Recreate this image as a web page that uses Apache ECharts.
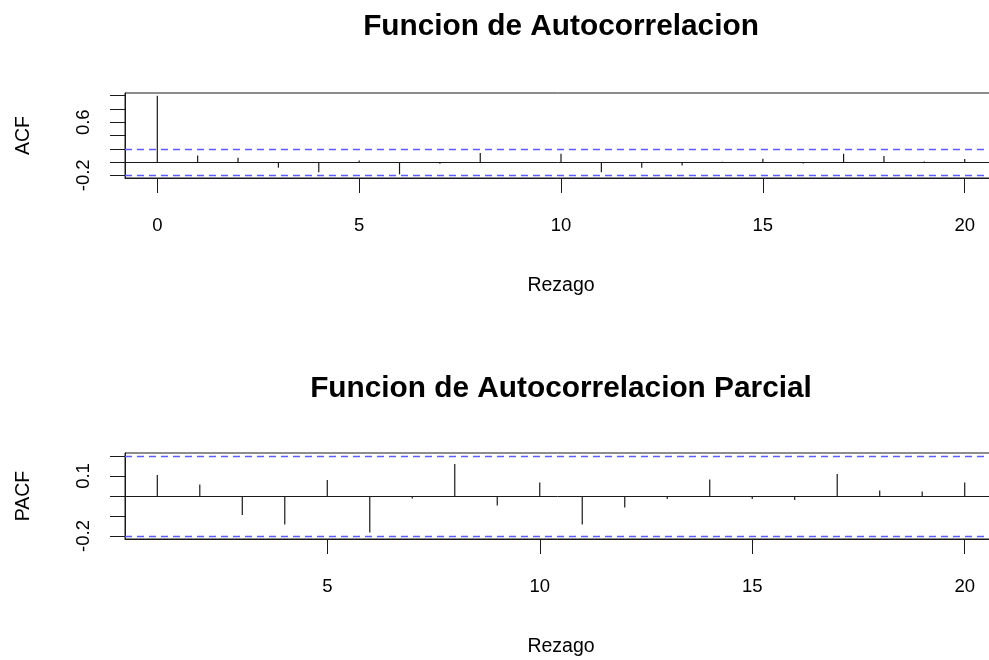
<!DOCTYPE html>
<html>
<head>
<meta charset="utf-8">
<title>Funcion de Autocorrelacion</title>
<script src="https://cdn.jsdelivr.net/npm/echarts@6/dist/echarts.min.js"></script>
<style>
  html, body { margin: 0; padding: 0; background: #fff; }
  #chart { width: 989px; height: 660px; }
</style>
</head>
<body>
<div id="chart"></div>
<script>
// Sample autocorrelations by lag
const acfLags = [0, 1, 2, 3, 4, 5, 6, 7, 8, 9, 10, 11, 12, 13, 14, 15, 16, 17, 18, 19, 20];
const acfValues = [1.0, 0.1, 0.065, -0.085, -0.155, 0.025, -0.185, -0.025, 0.135, -0.01, 0.125,
                   -0.155, -0.085, -0.05, 0.005, 0.05, -0.02, 0.125, 0.09, 0.01, 0.045];

// Sample partial autocorrelations by lag
const pacfLags = [1, 2, 3, 4, 5, 6, 7, 8, 9, 10, 11, 12, 13, 14, 15, 16, 17, 18, 19, 20];
const pacfValues = [0.105, 0.058, -0.095, -0.142, 0.08, -0.182, -0.012, 0.16, -0.048, 0.067,
                    -0.142, -0.058, -0.015, 0.083, -0.015, -0.02, 0.11, 0.027, 0.022, 0.067];

// Confidence bound (white-noise band)
const ciBound = 0.2;

// Axis ticks and labels
const xTicks = [0, 5, 10, 15, 20];
const pacfXTicks = [5, 10, 15, 20];
const acfYTicks = [-0.2, 0, 0.2, 0.4, 0.6, 0.8, 1.0];
const acfYLabels = [-0.2, 0.6];
const pacfYTicks = [-0.2, -0.1, 0, 0.1, 0.2];
const pacfYLabels = [-0.2, 0.1];

const titles = ['Funcion de Autocorrelacion', 'Funcion de Autocorrelacion Parcial'];
const xName = 'Rezago';
const yNames = ['ACF', 'PACF'];

const FONT = '"Liberation Sans", Arial, Helvetica, sans-serif';
const INK = '#1a1a1a';
const CI_COLOR = '#5c5cff';

function pairs(xs, ys) { return xs.map((x, i) => [x, ys[i]]); }

// Vertical spike from zero to the value at each lag
function spike(params, api) {
  const lag = api.value(0);
  const a = api.coord([lag, 0]);
  const b = api.coord([lag, api.value(1)]);
  return {
    type: 'line',
    shape: { x1: a[0], y1: a[1], x2: b[0], y2: b[1] },
    style: { stroke: INK, lineWidth: 1.2 }
  };
}

function xAxisCfg(gridIndex, min, max, ticks) {
  return {
    type: 'value', gridIndex, min, max,
    name: xName, nameLocation: 'middle', nameGap: 98,
    nameTextStyle: { fontFamily: FONT, fontSize: 19.5, color: '#000' },
    splitLine: { show: false },
    axisLine: { show: true, onZero: false, lineStyle: { color: INK, width: 1 } },
    axisTick: { show: true, inside: false, length: 15, customValues: ticks, lineStyle: { color: INK } },
    axisLabel: {
      customValues: ticks, margin: 38, fontFamily: FONT, fontSize: 18.5, color: '#000',
      formatter: v => String(Math.round(v))
    }
  };
}

function yAxisCfg(gridIndex, min, max, ticks, labels, name) {
  return {
    type: 'value', gridIndex, min, max,
    name, nameLocation: 'middle', nameGap: 91, nameRotate: 90,
    nameTextStyle: { fontFamily: FONT, fontSize: 19.5, color: '#000' },
    splitLine: { show: false },
    axisLine: { show: true, onZero: false, lineStyle: { color: INK, width: 1 } },
    axisTick: { show: true, inside: false, length: 15, customValues: ticks, lineStyle: { color: INK } },
    axisLabel: {
      customValues: labels, rotate: 90, margin: 32, fontFamily: FONT, fontSize: 18.5, color: '#000',
      formatter: v => Number(v).toFixed(1)
    }
  };
}

function refLines() {
  return {
    silent: true, symbol: 'none', animation: false,
    label: { show: false },
    data: [
      { yAxis: 0, lineStyle: { color: INK, type: 'solid', width: 1 } },
      { yAxis: ciBound, lineStyle: { color: CI_COLOR, type: [7, 5], width: 1.3 } },
      { yAxis: -ciBound, lineStyle: { color: CI_COLOR, type: [7, 5], width: 1.3 } }
    ]
  };
}

const chart = echarts.init(document.getElementById('chart'), null, { renderer: 'canvas' });

// Plot frames run past the right edge of the canvas, so no bounds clamping
const gridBase = { left: 125, width: 872, show: true, borderColor: INK, borderWidth: 1,
                   containLabel: false, outerBoundsMode: 'none' };

chart.setOption({
  animation: false,
  backgroundColor: '#fff',
  title: [
    { text: titles[0], left: 556, top: 7, textAlign: 'center',
      textStyle: { fontFamily: FONT, fontSize: 29.8, fontWeight: 'bold', color: '#000' } },
    { text: titles[1], left: 556, top: 369, textAlign: 'center',
      textStyle: { fontFamily: FONT, fontSize: 29.8, fontWeight: 'bold', color: '#000' } }
  ],
  grid: [
    Object.assign({}, gridBase, { top: 93, height: 85 }),
    Object.assign({}, gridBase, { top: 453, height: 86 })
  ],
  xAxis: [
    xAxisCfg(0, -0.8, 20.8, xTicks),
    xAxisCfg(1, 0.24, 20.76, pacfXTicks)
  ],
  yAxis: [
    yAxisCfg(0, -0.24, 1.04, acfYTicks, acfYLabels, yNames[0]),
    yAxisCfg(1, -0.215, 0.215, pacfYTicks, pacfYLabels, yNames[1])
  ],
  series: [
    { type: 'custom', xAxisIndex: 0, yAxisIndex: 0, renderItem: spike,
      data: pairs(acfLags, acfValues), markLine: refLines(), silent: true },
    { type: 'custom', xAxisIndex: 1, yAxisIndex: 1, renderItem: spike,
      data: pairs(pacfLags, pacfValues), markLine: refLines(), silent: true }
  ]
});
</script>
</body>
</html>
